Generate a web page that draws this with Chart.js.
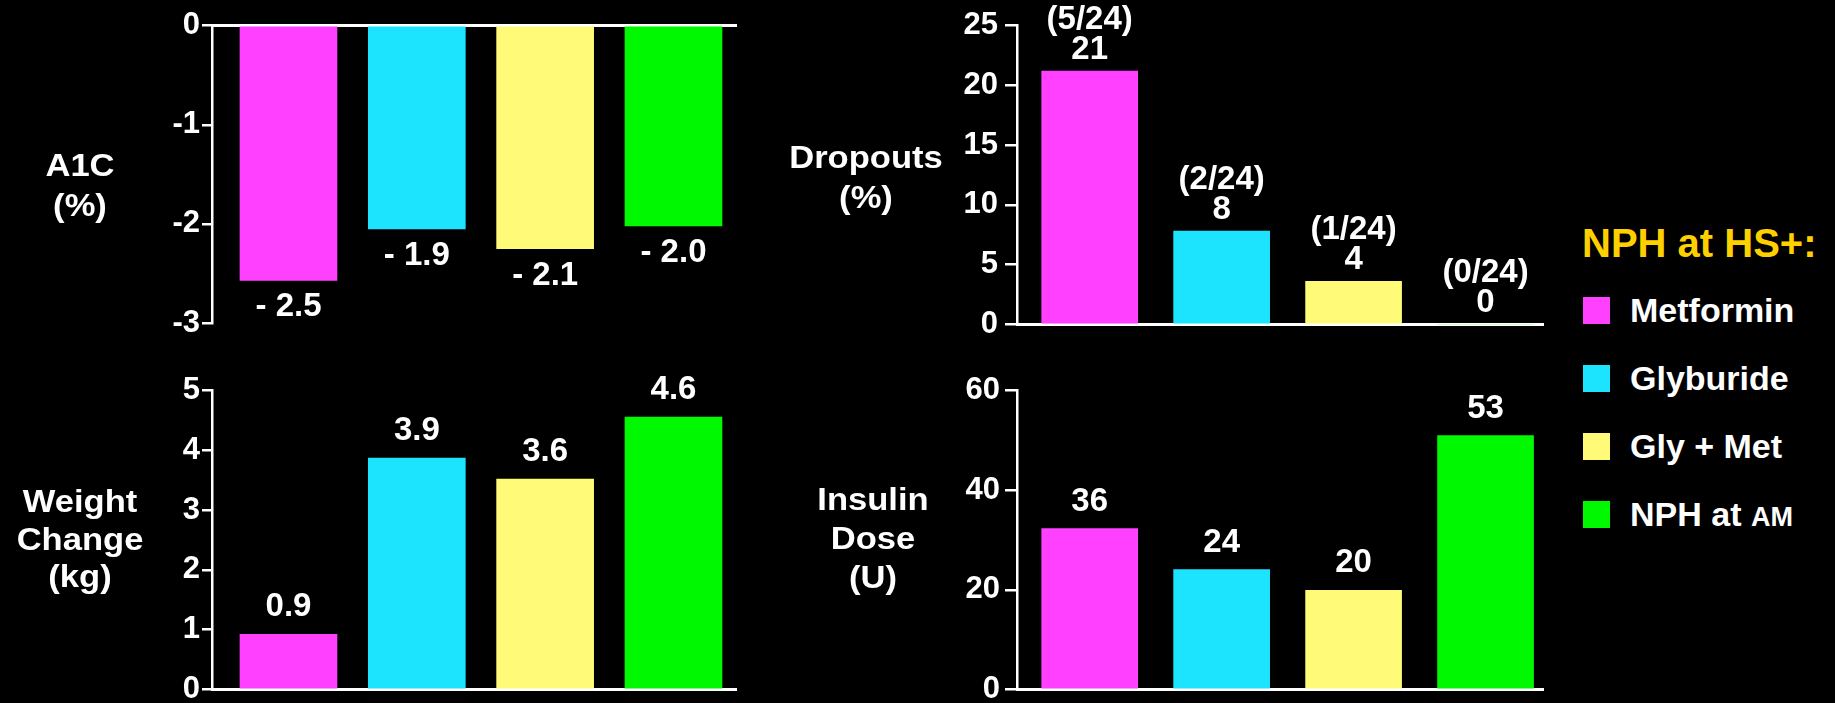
<!DOCTYPE html>
<html>
<head>
<meta charset="utf-8">
<script src="https://cdn.jsdelivr.net/npm/chart.js@4/dist/chart.umd.min.js"></script>
<style>
  html, body { margin: 0; padding: 0; background: #000; width: 1835px; height: 703px; overflow: hidden; }
  body { position: relative; font-family: "Liberation Sans", Arial, sans-serif; font-weight: bold; color: #fff; }
  .box { position: absolute; }
  .ytitle { position: absolute; width: 160px; text-align: center; font-size: 32px; transform: scaleX(1.08); }
  .legend-title { position: absolute; left: 1582px; top: 223px; line-height: 40px; font-size: 40px; color: #ffd000; white-space: nowrap; }
  .legend-row { position: absolute; left: 1583px; height: 40px; display: flex; align-items: center; font-size: 34px; white-space: nowrap; }
  .legend-row .sw { width: 27px; height: 27px; margin-right: 20px; }
  .legend-row .sc { font-size: 27px; }
</style>
</head>
<body>
<div class="box" style="left:142px; top:0px; width:595px; height:350px;"><canvas id="a1cChart"></canvas></div>
<div class="box" style="left:142px; top:360px; width:595px; height:360px;"><canvas id="weightChart"></canvas></div>
<div class="box" style="left:947px; top:0px; width:597px; height:350px;"><canvas id="dropoutChart"></canvas></div>
<div class="box" style="left:947px; top:360px; width:597px; height:360px;"><canvas id="insulinChart"></canvas></div>

<div class="ytitle" style="left:0px; top:145px; line-height:40px;">A1C<br>(%)</div>
<div class="ytitle" style="left:0px; top:483px; line-height:37.5px;">Weight<br>Change<br>(kg)</div>
<div class="ytitle" style="left:786px; top:137px; line-height:40px;">Dropouts<br>(%)</div>
<div class="ytitle" style="left:793px; top:480px; line-height:39px;">Insulin<br>Dose<br>(U)</div>

<div class="legend-title">NPH at HS+:</div>
<div id="legend"></div>

<script>
// treatment groups (NPH at bedtime plus ...)
const groups = ["Metformin", "Glyburide", "Gly + Met", "NPH at AM"];
const groupColors = ["#ff40ff", "#1ce4ff", "#fffb78", "#00f800"];

// bar heights as drawn, and the printed labels
const a1cChange = [-2.57, -2.05, -2.25, -2.02];
const a1cLabels = ["- 2.5", "- 1.9", "- 2.1", "- 2.0"];
const a1cTicks = [0, -1, -2, -3];

const weightChange = [0.92, 3.87, 3.52, 4.56];
const weightLabels = ["0.9", "3.9", "3.6", "4.6"];
const weightTicks = [0, 1, 2, 3, 4, 5];

const dropoutPct = [21.2, 7.8, 3.6, 0];
const dropoutLabels = [["(5/24)", "21"], ["(2/24)", "8"], ["(1/24)", "4"], ["(0/24)", "0"]];
const dropoutTicks = [0, 5, 10, 15, 20, 25];

const insulinDose = [32.3, 24.1, 19.9, 51.0];
const insulinLabels = ["36", "24", "20", "53"];
const insulinTicks = [0, 20, 40, 60];

const FONT = '"Liberation Sans", Arial, sans-serif';

// legend
const legendEl = document.getElementById("legend");
groups.forEach((g, i) => {
	const row = document.createElement("div");
	row.className = "legend-row";
	row.style.top = (290 + i * 68) + "px";
	const sw = document.createElement("div");
	sw.className = "sw";
	sw.style.background = groupColors[i];
	row.appendChild(sw);
	const txt = document.createElement("span");
	if (g.endsWith(" AM")) {
		txt.innerHTML = g.slice(0, -2) + '<span class="sc">AM</span>';
	} else {
		txt.textContent = g;
	}
	row.appendChild(txt);
	legendEl.appendChild(row);
});

// draws the value text above (or below, for negatives) each bar
function valueLabels(labels, gap, lineGap) {
	return {
		id: "valueLabels",
		afterDatasetsDraw(chart) {
			const ctx = chart.ctx;
			const meta = chart.getDatasetMeta(0);
			const data = chart.data.datasets[0].data;
			ctx.save();
			ctx.fillStyle = "#fff";
			ctx.font = "bold 33px " + FONT;
			ctx.textAlign = "center";
			ctx.textBaseline = "middle";
			meta.data.forEach((bar, i) => {
				const lines = [].concat(labels[i]);
				const below = data[i].y < 0;
				lines.forEach((t, k) => {
					const y = below
						? bar.y + gap + k * lineGap
						: bar.y - gap - (lines.length - 1 - k) * lineGap;
					ctx.fillText(t, bar.x, y);
				});
			});
			ctx.restore();
		},
	};
}

function makeChart(id, values, labels, ticks, opt) {
	const yMin = Math.min(...ticks);
	const yMax = Math.max(...ticks);
	return new Chart(document.getElementById(id), {
		type: "bar",
		data: {
			labels: groups,
			datasets: [
				{
					data: values.map((v, i) => ({ x: i, y: v })),
					backgroundColor: groupColors,
					barThickness: opt.barWidth,
					borderWidth: 0,
				},
			],
		},
		options: {
			responsive: true,
			maintainAspectRatio: false,
			animation: false,
			events: [],
			layout: { padding: opt.padding },
			plugins: {
				legend: { display: false },
				tooltip: { enabled: false },
			},
			scales: {
				x: {
					type: "linear",
					offset: false,
					position: opt.xPos,
					min: opt.xMin,
					max: opt.xMax,
					ticks: { display: false },
					grid: { display: false, offset: false },
					border: { display: true, color: "#fff", width: 3 },
					afterFit: (axis) => { axis.height = 0; },
				},
				y: {
					min: yMin,
					max: yMax,
					afterBuildTicks: (axis) => { axis.ticks = ticks.map((v) => ({ value: v })); },
					ticks: {
						color: "#fff",
						padding: opt.tickPad,
						font: { family: FONT, size: 31, weight: "bold" },
					},
					grid: {
						display: true,
						drawOnChartArea: false,
						drawTicks: true,
						tickLength: opt.tickLen,
						color: "#fff",
						lineWidth: 2.5,
					},
					border: { display: true, color: "#fff", width: 2.5 },
					afterFit: (axis) => { axis.width = 70; },
				},
			},
		},
		plugins: [valueLabels(labels, opt.gap, 30)],
	});
}

makeChart("a1cChart", a1cChange, a1cLabels, a1cTicks, {
	xPos: "top", xMin: -0.596, xMax: 3.495, barWidth: 97,
	padding: { left: 0, right: 0, top: 25.7, bottom: 27 },
	tickLen: 10, tickPad: 2, gap: 27,
});
makeChart("weightChart", weightChange, weightLabels, weightTicks, {
	xPos: "bottom", xMin: -0.596, xMax: 3.495, barWidth: 97,
	padding: { left: 0, right: 0, top: 30.7, bottom: 30.7 },
	tickLen: 10, tickPad: 2, gap: 27,
});
makeChart("dropoutChart", dropoutPct, dropoutLabels, dropoutTicks, {
	xPos: "bottom", xMin: -0.551, xMax: 3.443, barWidth: 96,
	padding: { left: 0, right: 0, top: 25.5, bottom: 25.7 },
	tickLen: 12, tickPad: 7, gap: 21,
});
makeChart("insulinChart", insulinDose, insulinLabels, insulinTicks, {
	xPos: "bottom", xMin: -0.551, xMax: 3.443, barWidth: 96,
	padding: { left: 0, right: 0, top: 30.7, bottom: 30.5 },
	tickLen: 12, tickPad: 5, gap: 27,
});
</script>
</body>
</html>
